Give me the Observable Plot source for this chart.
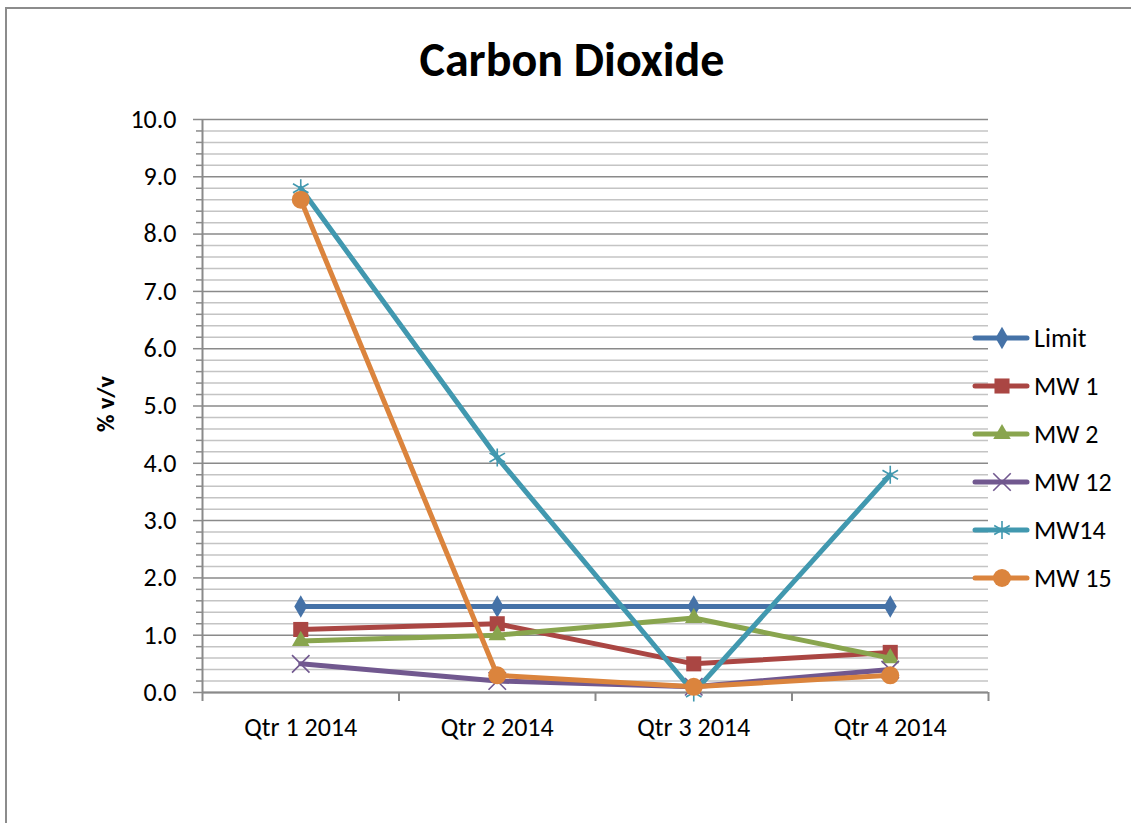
<!DOCTYPE html>
<html>
<head>
<meta charset="utf-8">
<script src="https://cdn.jsdelivr.net/npm/d3@7"></script>
<script src="https://cdn.jsdelivr.net/npm/@observablehq/plot@0.6"></script>
<style>
  html, body { margin: 0; padding: 0; background: #fff; overflow: hidden; width: 1131px; height: 823px; }
  body { position: relative; font-family: Calibri, Carlito, Lato, "Liberation Sans", sans-serif; }
  #frame { position: absolute; left: 5px; top: 7px; width: 1300px; height: 1000px; border-left: 2px solid #8c8c8c; border-top: 2px solid #8c8c8c; box-sizing: border-box; }
  #title { position: absolute; left: 0; width: 1144px; top: 36px; text-align: center; font-size: 48px; font-weight: bold; color: #000; line-height: 48px; }
  #ylab { position: absolute; left: 105px; top: 404px; transform: translate(-50%, -50%) rotate(-90deg); font-size: 24px; font-weight: bold; white-space: nowrap; color:#000; }
  #chart { position: absolute; left: 0; top: 0; }
  #legend { position: absolute; left: 972px; top: 314px; }
  .leg { display: flex; align-items: center; height: 48px; font-size: 26px; color: #000; }
  .leg svg { margin-right: 4px; }
</style>
</head>
<body>
<div id="frame"></div>
<div id="chart"></div>
<div id="title">Carbon Dioxide</div>
<div id="ylab">% v/v</div>
<div id="legend"></div>
<script>
const quarters = ["Qtr 1 2014", "Qtr 2 2014", "Qtr 3 2014", "Qtr 4 2014"];
const seriesNames = ["Limit", "MW 1", "MW 2", "MW 12", "MW14", "MW 15"];
const limit = [1.5, 1.5, 1.5, 1.5];
const mw1 = [1.1, 1.2, 0.5, 0.7];
const mw2 = [0.9, 1.0, 1.3, 0.6];
const mw12 = [0.5, 0.2, 0.1, 0.4];
const mw14 = [8.8, 4.1, 0.0, 3.8];
const mw15 = [8.6, 0.3, 0.1, 0.3];
const colors = ["#4572A7", "#AA4643", "#89A54E", "#71588F", "#4198AF", "#DB843D"];
const symbols = ["diamond", "square", "triangle", "times", "asterisk", "circle"];
const radii = [6.8, 8.5, 6.5, 8, 8.5, 9];
const yMajor = [0, 1, 2, 3, 4, 5, 6, 7, 8, 9, 10];

const seriesValues = [limit, mw1, mw2, mw12, mw14, mw15];
const series = seriesNames.map((name, k) => ({
  name, color: colors[k], symbol: symbols[k], r: radii[k],
  data: seriesValues[k].map((v, i) => ({q: i, v}))
}));
const yMinor = d3.range(0, 50).map(i => i / 5).filter(v => Math.abs(v - Math.round(v)) > 1e-6);
const xBounds = d3.range(0, quarters.length + 1).map(i => i - 0.5);

const fontFam = 'Calibri, Carlito, Lato, "Liberation Sans", sans-serif';
const strokeSyms = new Set(["times", "asterisk"]);

const marks = [
  Plot.gridY(yMinor, {stroke: "#c4c4c4", strokeOpacity: 1, strokeWidth: 1.5}),
  Plot.gridY(yMajor, {stroke: "#8a8a8a", strokeOpacity: 1, strokeWidth: 1.5}),
  Plot.axisY(yMinor, {tickSize: 6, tickFormat: () => "", stroke: "#8a8a8a", strokeWidth: 1.5, label: null}),
  Plot.axisY(yMajor, {tickSize: 9, tickPadding: 17, tickFormat: d => d.toFixed(1), stroke: "#8a8a8a", strokeWidth: 1.5, fontSize: 26, fill: "#000", label: null}),
  Plot.ruleX([-0.5], {stroke: "#8a8a8a", strokeWidth: 2}),
  Plot.ruleY([0], {stroke: "#8a8a8a", strokeWidth: 2}),
  Plot.axisX(xBounds, {tickSize: 9, tickFormat: () => "", stroke: "#8a8a8a", strokeWidth: 2, label: null}),
  Plot.axisX(d3.range(quarters.length), {tickSize: 0, tickPadding: 25, tickFormat: i => quarters[i], fontSize: 26, fill: "#000", label: null})
];
for (const s of series) {
  marks.push(Plot.line(s.data, {x: "q", y: "v", stroke: s.color, strokeWidth: 5, strokeLinejoin: "round", strokeLinecap: "round"}));
  if (strokeSyms.has(s.symbol)) {
    marks.push(Plot.dot(s.data, {x: "q", y: "v", symbol: () => s.symbol, r: s.r, stroke: s.color, strokeWidth: 1.6, fill: "none"}));
  } else {
    marks.push(Plot.dot(s.data, {x: "q", y: "v", symbol: () => s.symbol, r: s.r, fill: s.color, stroke: "none"}));
  }
}

const chart = Plot.plot({
  width: 1131, height: 823,
  marginLeft: 202, marginRight: 143, marginTop: 119, marginBottom: 131,
  x: {type: "linear", domain: [-0.5, quarters.length - 0.5], axis: null},
  y: {type: "linear", domain: [0, 10], axis: null},
  symbol: {type: "identity"},
  style: {fontFamily: fontFam, background: "transparent", color: "#000", overflow: "visible"},
  marks
});
document.getElementById("chart").appendChild(chart);

// Legend
const legend = d3.select("#legend");
const symMap = {diamond: d3.symbolDiamond, square: d3.symbolSquare, triangle: d3.symbolTriangle, times: d3.symbolTimes, asterisk: d3.symbolAsterisk, circle: d3.symbolCircle};
for (const s of series) {
  const row = legend.append("div").attr("class", "leg");
  const svg = row.append("svg").attr("width", 58).attr("height", 24);
  svg.append("line").attr("x1", 3).attr("x2", 55).attr("y1", 12).attr("y2", 12)
    .attr("stroke", s.color).attr("stroke-width", 5).attr("stroke-linecap", "round");
  const path = svg.append("path").attr("transform", "translate(30,12)")
    .attr("d", d3.symbol(symMap[s.symbol], Math.PI * s.r * s.r)());
  if (strokeSyms.has(s.symbol)) path.attr("fill", "none").attr("stroke", s.color).attr("stroke-width", 1.6);
  else path.attr("fill", s.color);
  row.append("span").text(s.name);
}
</script>
</body>
</html>
